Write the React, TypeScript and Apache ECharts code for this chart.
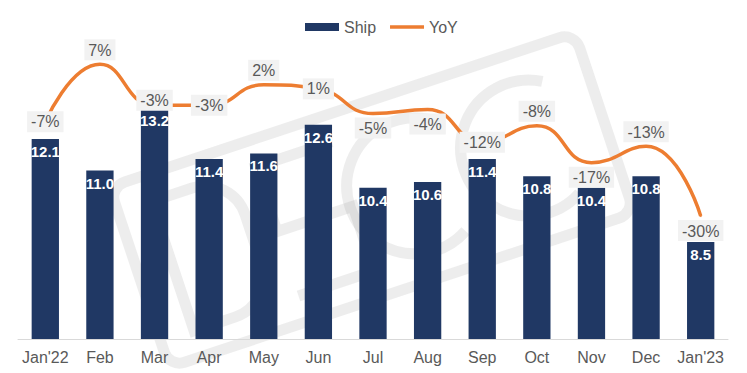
import React, { useEffect, useRef } from "react";
import * as echarts from "echarts";

const categories = ["Jan'22", "Feb", "Mar", "Apr", "May", "Jun", "Jul", "Aug", "Sep", "Oct", "Nov", "Dec", "Jan'23"];
const shipValues = [12.1, 11.0, 13.2, 11.4, 11.6, 12.6, 10.4, 10.6, 11.4, 10.8, 10.4, 10.8, 8.5];
const yoyValues = [-7, 7, -3, -3, 2, 1, -5, -4, -12, -8, -17, -13, -30];
const yoyLabelPositions = ["inside", "top", "inside", "inside", "top", "inside", "bottom", "bottom", "inside", "top", "bottom", "top", "bottom"];

const FONT = "'Liberation Sans', Arial, sans-serif";
const BAR_COLOR = "#203864";
const LINE_COLOR = "#ED7D31";
const TEXT_COLOR = "#595959";

export default function App() {
  const ref = useRef<HTMLDivElement>(null);
  useEffect(() => {
    document.body.style.margin = "0";
    if (!ref.current) return;
    const chart = echarts.init(ref.current, undefined, { renderer: "svg" });
    const wmStyle = { fill: "none", stroke: "#888888", lineWidth: 11, opacity: 0.15 };
    const option: any = {
      animation: false,
      textStyle: { fontFamily: FONT },
      legend: {
        left: 300,
        top: 14,
        itemWidth: 34,
        itemHeight: 8,
        itemGap: 14,
        textStyle: { color: TEXT_COLOR, fontSize: 16, fontFamily: FONT },
        data: [
          { name: "Ship", icon: "rect" },
          { name: "YoY", icon: "path://M0,0h40v4h-40z" },
        ],
      },
      grid: { left: 18, right: 19, top: 52, bottom: 34, containLabel: false, outerBoundsMode: "none" },
      xAxis: {
        type: "category",
        data: categories,
        axisTick: { show: false },
        axisLine: { onZero: false, lineStyle: { color: "#D9D9D9", width: 1 } },
        axisLabel: { color: TEXT_COLOR, fontSize: 16, margin: 10, fontFamily: FONT, interval: 0 },
      },
      yAxis: [
        { type: "value", min: 5.1, max: 15.15, show: false },
        { type: "value", min: -60, max: 10, show: false },
      ],
      graphic: [
        {
          type: "group",
          x: 372,
          y: 200,
          rotation: 0.32,
          z: 3,
          silent: true,
          children: [
            { type: "rect", shape: { x: -245, y: -95, width: 490, height: 190, r: 16 }, style: wmStyle },
            { type: "rect", shape: { x: -210, y: -68, width: 85, height: 136, r: [0, 42, 42, 0] }, style: wmStyle },
            {
              type: "polyline",
              shape: { points: [[-20, -68], [-100, -68], [-100, 0], [-20, 0], [-20, 68], [-100, 68]] },
              style: wmStyle,
            },
            { type: "arc", shape: { cx: 45, cy: 0, r: 68, startAngle: -Math.PI / 3, endAngle: Math.PI / 3, clockwise: false }, style: wmStyle },
            { type: "arc", shape: { cx: 165, cy: 0, r: 68, startAngle: -Math.PI / 3, endAngle: Math.PI / 3, clockwise: false }, style: wmStyle },
          ],
        },
      ],
      series: [
        {
          name: "Ship",
          type: "bar",
          data: shipValues,
          yAxisIndex: 0,
          barWidth: "50%",
          z: 2,
          itemStyle: { color: BAR_COLOR },
          label: {
            show: true,
            position: "insideTop",
            distance: 5,
            color: "#FFFFFF",
            fontWeight: "bold",
            fontSize: 15,
            fontFamily: FONT,
            formatter: (p: any) => Number(p.value).toFixed(1),
          },
        },
        {
          name: "YoY",
          type: "line",
          yAxisIndex: 1,
          z: 4,
          smooth: 0.5,
          symbol: "circle",
          symbolSize: 2,
          itemStyle: { color: LINE_COLOR },
          lineStyle: { color: LINE_COLOR, width: 3.5 },
          data: yoyValues.map((v, i) => ({
            value: v,
            label: { position: yoyLabelPositions[i], offset: i === 2 ? [0, -5] : [0, 0] },
          })),
          label: {
            show: true,
            distance: 3,
            color: TEXT_COLOR,
            fontSize: 16,
            fontFamily: FONT,
            backgroundColor: "#F2F2F2",
            padding: [2, 4, 1, 4],
            lineHeight: 18,
            formatter: (p: any) => `${p.value}%`,
          },
        },
      ],
    };
    chart.setOption(option);
    return () => chart.dispose();
  }, []);
  return <div ref={ref} style={{ width: 747, height: 373 }} />;
}
